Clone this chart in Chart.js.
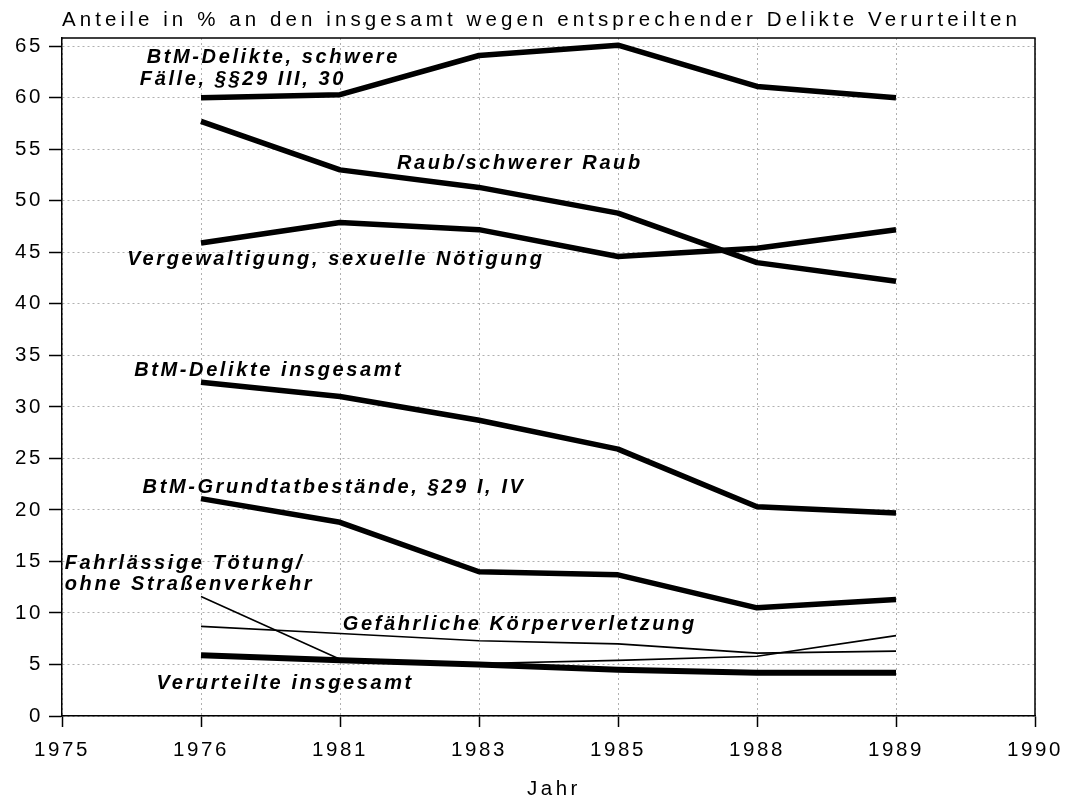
<!DOCTYPE html>
<html>
<head>
<meta charset="utf-8">
<script src="https://cdn.jsdelivr.net/npm/chart.js@4/dist/chart.umd.min.js"></script>
<style>
  html, body { margin: 0; padding: 0; background: #fff; }
  #wrap { width: 1072px; height: 803px; }
</style>
</head>
<body>
<div id="wrap"><canvas id="chart" width="1072" height="803"></canvas></div>
<script>
// Jahre (Kategorien); 1975 und 1990 nur als Achsenbegrenzung
const years = ['1975', '1976', '1981', '1983', '1985', '1988', '1989', '1990'];

// Anteile in %
const btmSchwer      = [null, 60.0, 60.3, 64.1, 65.1, 61.1, 60.0, null];
const raub           = [null, 57.7, 53.0, 51.3, 48.8, 44.0, 42.2, null];
const vergewaltigung = [null, 45.9, 47.9, 47.2, 44.6, 45.4, 47.2, null];
const btmInsgesamt   = [null, 32.4, 31.0, 28.7, 25.9, 20.3, 19.7, null];
const btmGrund       = [null, 21.1, 18.8, 14.0, 13.7, 10.5, 11.3, null];
const fahrlTotung    = [null, 11.6, 5.5, 5.1, 5.4, 5.8, 7.8, null];
const gefKoerperverl = [null, 8.7, 8.0, 7.3, 7.0, 6.1, 6.3, null];
const verurteilte    = [null, 5.9, 5.4, 5.0, 4.5, 4.2, 4.2, null];

const yTicks = [0, 5, 10, 15, 20, 25, 30, 35, 40, 45, 50, 55, 60, 65];

// Beschriftungen der Linien (Anker in Achsenwerten: Kategorie-Index, Prozent)
const lineLabels = [
  { text: 'BtM-Delikte, schwere', x: 0.61, y: 63.9 },
  { text: 'Fälle, §§29 III, 30', x: 0.56, y: 61.8 },
  { text: 'Raub/schwerer Raub', x: 2.41, y: 53.6 },
  { text: 'Vergewaltigung, sexuelle Nötigung', x: 0.47, y: 44.3 },
  { text: 'BtM-Delikte insgesamt', x: 0.52, y: 33.5 },
  { text: 'BtM-Grundtatbestände, §29 I, IV', x: 0.58, y: 22.2 },
  { text: 'Fahrlässige Tötung/', x: 0.02, y: 14.8 },
  { text: 'ohne Straßenverkehr', x: 0.02, y: 12.8 },
  { text: 'Gefährliche Körperverletzung', x: 2.02, y: 8.9 },
  { text: 'Verurteilte insgesamt', x: 0.68, y: 3.2 }
];

const FONT = "'Liberation Sans', Arial, Helvetica, sans-serif";
Chart.defaults.font.family = FONT;
Chart.defaults.color = '#000';

function line(data, width) {
  return {
    data: data,
    borderColor: '#000',
    borderWidth: width,
    pointRadius: 0,
    tension: 0,
    spanGaps: false,
    borderJoinStyle: 'round',
    borderCapStyle: 'butt'
  };
}

const decorations = {
  id: 'decorations',
  beforeDraw(chart) {
    chart.ctx.letterSpacing = '2.6px';
  },
  afterDraw(chart) {
    const { ctx, chartArea: a, scales: { x, y } } = chart;
    ctx.save();
    // Rahmen oben/rechts
    ctx.strokeStyle = '#000';
    ctx.lineWidth = 1.5;
    ctx.beginPath();
    ctx.moveTo(a.left, a.top);
    ctx.lineTo(a.right, a.top);
    ctx.lineTo(a.right, a.bottom);
    ctx.stroke();

    // Titel
    ctx.fillStyle = '#000';
    ctx.textBaseline = 'middle';
    ctx.textAlign = 'left';
    ctx.font = '20.5px ' + FONT;
    ctx.letterSpacing = '4.1px';
    ctx.fillText('Anteile in % an den insgesamt wegen entsprechender Delikte Verurteilten', a.left, 20);

    // Achsentitel
    ctx.font = '20.5px ' + FONT;
    ctx.letterSpacing = '3.5px';
    ctx.textAlign = 'left';
    ctx.fillText('Jahr', 527, 789);

    // Linienbeschriftungen
    ctx.font = 'italic bold 20px ' + FONT;
    ctx.textAlign = 'left';
    ctx.letterSpacing = '2.6px';
    lineLabels.forEach(l => {
      ctx.fillText(l.text, x.getPixelForValue(l.x), y.getPixelForValue(l.y));
    });
    ctx.restore();
  }
};

new Chart(document.getElementById('chart'), {
  type: 'line',
  data: {
    labels: years,
    datasets: [
      line(btmSchwer, 5.5),
      line(raub, 5.5),
      line(vergewaltigung, 5.5),
      line(btmInsgesamt, 5.5),
      line(btmGrund, 5.5),
      line(fahrlTotung, 1.6),
      line(gefKoerperverl, 1.6),
      line(verurteilte, 6)
    ]
  },
  options: {
    responsive: false,
    animation: false,
    layout: { padding: { top: 38, right: 37, left: 0, bottom: 0 } },
    plugins: { legend: { display: false }, tooltip: { enabled: false } },
    scales: {
      x: {
        type: 'category',
        offset: false,
        afterFit(scale) { scale.height = 87; },
        grid: {
          color: '#b0b0b0',
          lineWidth: 1,
          tickColor: '#000',
          tickWidth: 1.5,
          tickLength: 11
        },
        border: { color: '#000', width: 1.5, dash: [2, 3] },
        ticks: {
          font: { size: 20.5 },
          color: '#000',
          padding: 11,
          maxRotation: 0,
          autoSkip: false
        }
      },
      y: {
        min: 0,
        max: 65.8,
        afterFit(scale) { scale.width = 62; },
        afterBuildTicks(scale) { scale.ticks = yTicks.map(v => ({ value: v })); },
        grid: {
          color: '#b0b0b0',
          lineWidth: 1,
          tickColor: '#000',
          tickWidth: 1.5,
          tickLength: 13
        },
        border: { color: '#000', width: 1.5, dash: [2, 3] },
        ticks: {
          font: { size: 20.5 },
          color: '#000',
          padding: 6
        }
      }
    }
  },
  plugins: [decorations]
});
</script>
</body>
</html>
